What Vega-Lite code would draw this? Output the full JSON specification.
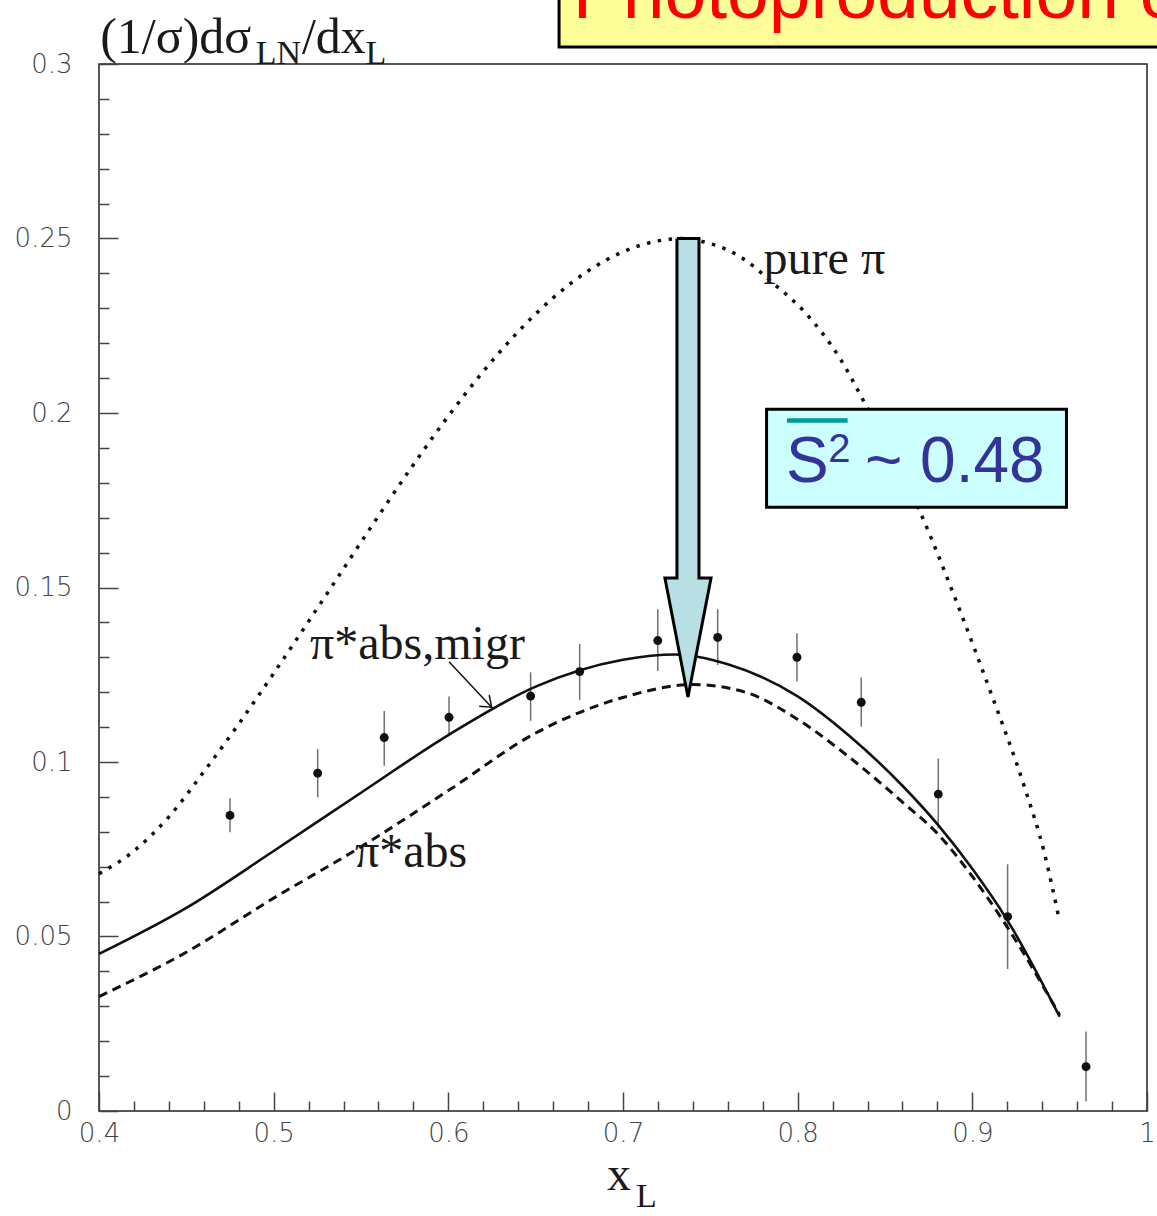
{
  "$schema": "https://vega.github.io/schema/vega-lite/v6.json",
  "width": 1048,
  "height": 1047,
  "autosize": "none",
  "padding": {"left": 99, "top": 64, "right": 10, "bottom": 105},
  "background": "white",
  "config": {
    "view": {"stroke": "#222", "strokeWidth": 1.5},
    "axis": {"grid": false, "domain": false, "title": null}
  },
  "datasets": {
    "pts": [
      {"x": 0.475, "y": 0.0847, "lo": 0.0799, "hi": 0.0896},
      {"x": 0.5252, "y": 0.0968, "lo": 0.0899, "hi": 0.1037},
      {"x": 0.5633, "y": 0.107, "lo": 0.0989, "hi": 0.1146},
      {"x": 0.6004, "y": 0.1128, "lo": 0.1077, "hi": 0.1188},
      {"x": 0.6471, "y": 0.1189, "lo": 0.1118, "hi": 0.1257},
      {"x": 0.6752, "y": 0.1259, "lo": 0.1178, "hi": 0.1338},
      {"x": 0.7199, "y": 0.1348, "lo": 0.1261, "hi": 0.1438},
      {"x": 0.7542, "y": 0.1357, "lo": 0.1278, "hi": 0.1438},
      {"x": 0.7996, "y": 0.13, "lo": 0.1231, "hi": 0.1369},
      {"x": 0.8364, "y": 0.1171, "lo": 0.1101, "hi": 0.1242},
      {"x": 0.8805, "y": 0.0908, "lo": 0.081, "hi": 0.101},
      {"x": 0.9202, "y": 0.0557, "lo": 0.0407, "hi": 0.0707},
      {"x": 0.9651, "y": 0.0127, "lo": 0.0027, "hi": 0.0228}
    ],
    "migr": [
      {"x": 0.4, "y": 0.045}, {"x": 0.45, "y": 0.0582}, {"x": 0.5, "y": 0.0745},
      {"x": 0.55, "y": 0.0912}, {"x": 0.6, "y": 0.1077}, {"x": 0.65, "y": 0.1216},
      {"x": 0.7, "y": 0.1293}, {"x": 0.73, "y": 0.1308}, {"x": 0.76, "y": 0.128},
      {"x": 0.8, "y": 0.1188}, {"x": 0.83, "y": 0.1073}, {"x": 0.86, "y": 0.0932},
      {"x": 0.88, "y": 0.0822}, {"x": 0.9, "y": 0.0694}, {"x": 0.92, "y": 0.0547},
      {"x": 0.95, "y": 0.027}
    ],
    "abs": [
      {"x": 0.4, "y": 0.0328}, {"x": 0.45, "y": 0.0455}, {"x": 0.5, "y": 0.061},
      {"x": 0.55, "y": 0.0757}, {"x": 0.6, "y": 0.0918}, {"x": 0.65, "y": 0.1083},
      {"x": 0.7, "y": 0.1185}, {"x": 0.74, "y": 0.1222}, {"x": 0.77, "y": 0.12},
      {"x": 0.8, "y": 0.1122}, {"x": 0.83, "y": 0.1012}, {"x": 0.86, "y": 0.0885},
      {"x": 0.88, "y": 0.0795}, {"x": 0.9, "y": 0.0672}, {"x": 0.92, "y": 0.0527},
      {"x": 0.95, "y": 0.0275}
    ],
    "pure": [
      {"x": 0.4, "y": 0.068}, {"x": 0.42, "y": 0.0745}, {"x": 0.44, "y": 0.0843},
      {"x": 0.46, "y": 0.0972}, {"x": 0.48, "y": 0.1109}, {"x": 0.5, "y": 0.1254},
      {"x": 0.52, "y": 0.1403}, {"x": 0.54, "y": 0.1554}, {"x": 0.56, "y": 0.1705},
      {"x": 0.58, "y": 0.1852}, {"x": 0.6, "y": 0.1991}, {"x": 0.62, "y": 0.2119},
      {"x": 0.64, "y": 0.2233}, {"x": 0.66, "y": 0.233}, {"x": 0.68, "y": 0.2407},
      {"x": 0.7, "y": 0.2462}, {"x": 0.72, "y": 0.2493}, {"x": 0.735, "y": 0.25},
      {"x": 0.7441, "y": 0.2493}, {"x": 0.767, "y": 0.2448}, {"x": 0.7862, "y": 0.2371},
      {"x": 0.8053, "y": 0.2282}, {"x": 0.8245, "y": 0.2154}, {"x": 0.8379, "y": 0.2033},
      {"x": 0.8696, "y": 0.1722}, {"x": 0.8915, "y": 0.1452}, {"x": 0.9107, "y": 0.1197},
      {"x": 0.9298, "y": 0.0929}, {"x": 0.9413, "y": 0.0738}, {"x": 0.9498, "y": 0.0547}
    ],
    "arrow": [
      {"i": 0, "x": 0.7309, "y": 0.25}, {"i": 1, "x": 0.7435, "y": 0.25},
      {"i": 2, "x": 0.7435, "y": 0.1527}, {"i": 3, "x": 0.7504, "y": 0.1527},
      {"i": 4, "x": 0.7372, "y": 0.1186}, {"i": 5, "x": 0.724, "y": 0.1527},
      {"i": 6, "x": 0.7309, "y": 0.1527}, {"i": 7, "x": 0.7309, "y": 0.25}
    ],
    "ptr": [
      {"g": "shaft", "i": 0, "x": 0.6004, "y": 0.1287}, {"g": "shaft", "i": 1, "x": 0.6248, "y": 0.1157},
      {"g": "head", "i": 0, "x": 0.6177, "y": 0.116}, {"g": "head", "i": 1, "x": 0.6248, "y": 0.1157},
      {"g": "head", "i": 2, "x": 0.6234, "y": 0.1192}
    ],
    "sbox": [{"x": 0.7822, "x2": 0.9539, "y": 0.2011, "y2": 0.173}],
    "tbox": [{"x": 0.6634, "x2": 1.05, "y": 0.33, "y2": 0.3049}],
    "bar": [{"x": 0.7939, "x2": 0.8286, "y": 0.19785}],
    "big": [
      {"t": "S", "x": 0.7933, "y": 0.1803},
      {"t": "~ 0.48", "x": 0.8385, "y": 0.1803}
    ],
    "sup": [{"t": "2", "x": 0.8175, "y": 0.186}],
    "serif": [
      {"t": "pure π", "x": 0.7805, "y": 0.2397},
      {"t": "π*abs,migr", "x": 0.5208, "y": 0.1295},
      {"t": "π*abs", "x": 0.5466, "y": 0.0699},
      {"t": "x", "x": 0.6908, "y": -0.0226}
    ],
    "ytitle": [
      {"t": "(1/σ)dσ", "x": 0.4007, "y": 0.3032},
      {"t": "/dx", "x": 0.5162, "y": 0.3032}
    ],
    "sub": [
      {"t": "LN", "x": 0.4897, "y": 0.3001},
      {"t": "L", "x": 0.5526, "y": 0.3001},
      {"t": "L", "x": 0.7074, "y": -0.0275}
    ],
    "title": [{"t": "Photoproduction of leading neutrons", "x": 0.6712, "y": 0.3132}]
  },
  "layer": [
    {
      "data": {"name": "pts"},
      "mark": {"type": "rule", "color": "#707070", "strokeWidth": 1.5},
      "encoding": {
        "x": {"field": "x", "type": "quantitative", "scale": {"domain": [0.4, 1], "nice": false, "zero": false},
              "axis": {"orient": "bottom", "values": [0.4, 0.5, 0.6, 0.7, 0.8, 0.9, 1], "format": "~g", "ticks": false,
                       "labelFont": "DejaVu Sans", "labelFontSize": 26, "labelFontWeight": 200, "labelColor": "#444",
                       "labelPadding": 9, "labelFlush": false, "labelOverlap": false}},
        "y": {"field": "lo", "type": "quantitative", "scale": {"domain": [0, 0.3], "nice": false, "zero": false},
              "axis": {"orient": "left", "values": [0, 0.05, 0.1, 0.15, 0.2, 0.25, 0.3], "format": "~g", "ticks": false,
                       "labelFont": "DejaVu Sans", "labelFontSize": 26, "labelFontWeight": 200, "labelColor": "#444",
                       "labelPadding": 27, "labelFlush": false, "labelOverlap": false}},
        "y2": {"field": "hi"}
      }
    },
    {
      "data": {"name": "pts"},
      "mark": {"type": "circle", "color": "#111", "opacity": 1, "size": 80},
      "encoding": {
        "x": {"field": "x", "type": "quantitative", "scale": {"domain": [0.4, 1], "nice": false, "zero": false},
              "axis": {"orient": "bottom", "values": [0.4, 0.5, 0.6, 0.7, 0.8, 0.9, 1], "labels": false,
                       "tickSize": -19, "tickColor": "#444", "tickWidth": 1.5}},
        "y": {"field": "y", "type": "quantitative", "scale": {"domain": [0, 0.3], "nice": false, "zero": false},
              "axis": {"orient": "left", "values": [0, 0.05, 0.1, 0.15, 0.2, 0.25, 0.3], "labels": false,
                       "tickSize": -19, "tickColor": "#444", "tickWidth": 1.5}}
      }
    },
    {
      "data": {"name": "migr"},
      "mark": {"type": "line", "color": "#111", "strokeWidth": 2.6, "interpolate": "monotone"},
      "encoding": {
        "x": {"field": "x", "type": "quantitative", "scale": {"domain": [0.4, 1], "nice": false, "zero": false},
              "axis": {"orient": "bottom", "values": [0.42, 0.44, 0.46, 0.48, 0.52, 0.54, 0.56, 0.58, 0.62, 0.64, 0.66, 0.68, 0.72, 0.74, 0.76, 0.78, 0.82, 0.84, 0.86, 0.88, 0.92, 0.94, 0.96, 0.98],
                       "labels": false, "tickSize": -10, "tickColor": "#444", "tickWidth": 1.5}},
        "y": {"field": "y", "type": "quantitative", "scale": {"domain": [0, 0.3], "nice": false, "zero": false},
              "axis": {"orient": "left", "values": [0.01, 0.02, 0.03, 0.04, 0.06, 0.07, 0.08, 0.09, 0.11, 0.12, 0.13, 0.14, 0.16, 0.17, 0.18, 0.19, 0.21, 0.22, 0.23, 0.24, 0.26, 0.27, 0.28, 0.29],
                       "labels": false, "tickSize": -10, "tickColor": "#444", "tickWidth": 1.5}}
      }
    },
    {
      "data": {"name": "abs"},
      "mark": {"type": "line", "color": "#111", "strokeWidth": 3, "strokeDash": [9, 6], "interpolate": "monotone"},
      "encoding": {
        "x": {"field": "x", "type": "quantitative", "scale": {"domain": [0.4, 1], "nice": false, "zero": false}, "axis": null},
        "y": {"field": "y", "type": "quantitative", "scale": {"domain": [0, 0.3], "nice": false, "zero": false}, "axis": null}
      }
    },
    {
      "data": {"name": "pure"},
      "mark": {"type": "line", "color": "#111", "strokeWidth": 3.5, "strokeDash": [3.5, 7.5], "interpolate": "monotone"},
      "encoding": {
        "x": {"field": "x", "type": "quantitative", "scale": {"domain": [0.4, 1], "nice": false, "zero": false}, "axis": null},
        "y": {"field": "y", "type": "quantitative", "scale": {"domain": [0, 0.3], "nice": false, "zero": false}, "axis": null}
      }
    },
    {
      "data": {"name": "ptr"},
      "mark": {"type": "line", "color": "#111", "strokeWidth": 1.5},
      "encoding": {
        "x": {"field": "x", "type": "quantitative", "scale": {"domain": [0.4, 1], "nice": false, "zero": false}, "axis": null},
        "y": {"field": "y", "type": "quantitative", "scale": {"domain": [0, 0.3], "nice": false, "zero": false}, "axis": null},
        "detail": {"field": "g"},
        "order": {"field": "i"}
      }
    },
    {
      "data": {"name": "arrow"},
      "mark": {"type": "line", "fill": "#b8dfe3", "stroke": "#000", "strokeWidth": 3, "strokeJoin": "miter"},
      "encoding": {
        "x": {"field": "x", "type": "quantitative", "scale": {"domain": [0.4, 1], "nice": false, "zero": false}, "axis": null},
        "y": {"field": "y", "type": "quantitative", "scale": {"domain": [0, 0.3], "nice": false, "zero": false}, "axis": null},
        "order": {"field": "i"}
      }
    },
    {
      "data": {"name": "sbox"},
      "mark": {"type": "rect", "fill": "#ccffff", "stroke": "#000", "strokeWidth": 3},
      "encoding": {
        "x": {"field": "x", "type": "quantitative", "scale": {"domain": [0.4, 1], "nice": false, "zero": false}, "axis": null},
        "x2": {"field": "x2"},
        "y": {"field": "y", "type": "quantitative", "scale": {"domain": [0, 0.3], "nice": false, "zero": false}, "axis": null},
        "y2": {"field": "y2"}
      }
    },
    {
      "data": {"name": "bar"},
      "mark": {"type": "rule", "color": "#009999", "strokeWidth": 4.5},
      "encoding": {
        "x": {"field": "x", "type": "quantitative", "scale": {"domain": [0.4, 1], "nice": false, "zero": false}, "axis": null},
        "x2": {"field": "x2"},
        "y": {"field": "y", "type": "quantitative", "scale": {"domain": [0, 0.3], "nice": false, "zero": false}, "axis": null}
      }
    },
    {
      "data": {"name": "big"},
      "mark": {"type": "text", "font": "Liberation Sans", "fontSize": 64, "color": "#333399", "align": "left", "baseline": "alphabetic"},
      "encoding": {
        "x": {"field": "x", "type": "quantitative", "scale": {"domain": [0.4, 1], "nice": false, "zero": false}, "axis": null},
        "y": {"field": "y", "type": "quantitative", "scale": {"domain": [0, 0.3], "nice": false, "zero": false}, "axis": null},
        "text": {"field": "t"}
      }
    },
    {
      "data": {"name": "sup"},
      "mark": {"type": "text", "font": "Liberation Sans", "fontSize": 40, "color": "#333399", "align": "left", "baseline": "alphabetic"},
      "encoding": {
        "x": {"field": "x", "type": "quantitative", "scale": {"domain": [0.4, 1], "nice": false, "zero": false}, "axis": null},
        "y": {"field": "y", "type": "quantitative", "scale": {"domain": [0, 0.3], "nice": false, "zero": false}, "axis": null},
        "text": {"field": "t"}
      }
    },
    {
      "data": {"name": "serif"},
      "mark": {"type": "text", "font": "Liberation Serif", "fontSize": 48, "color": "#1a1a1a", "align": "left", "baseline": "alphabetic"},
      "encoding": {
        "x": {"field": "x", "type": "quantitative", "scale": {"domain": [0.4, 1], "nice": false, "zero": false}, "axis": null},
        "y": {"field": "y", "type": "quantitative", "scale": {"domain": [0, 0.3], "nice": false, "zero": false}, "axis": null},
        "text": {"field": "t"}
      }
    },
    {
      "data": {"name": "ytitle"},
      "mark": {"type": "text", "font": "Liberation Serif", "fontSize": 50, "color": "#1a1a1a", "align": "left", "baseline": "alphabetic"},
      "encoding": {
        "x": {"field": "x", "type": "quantitative", "scale": {"domain": [0.4, 1], "nice": false, "zero": false}, "axis": null},
        "y": {"field": "y", "type": "quantitative", "scale": {"domain": [0, 0.3], "nice": false, "zero": false}, "axis": null},
        "text": {"field": "t"}
      }
    },
    {
      "data": {"name": "sub"},
      "mark": {"type": "text", "font": "Liberation Serif", "fontSize": 34, "color": "#1a1a1a", "align": "left", "baseline": "alphabetic"},
      "encoding": {
        "x": {"field": "x", "type": "quantitative", "scale": {"domain": [0.4, 1], "nice": false, "zero": false}, "axis": null},
        "y": {"field": "y", "type": "quantitative", "scale": {"domain": [0, 0.3], "nice": false, "zero": false}, "axis": null},
        "text": {"field": "t"}
      }
    },
    {
      "data": {"name": "tbox"},
      "mark": {"type": "rect", "fill": "#ffff99", "stroke": "#000", "strokeWidth": 3},
      "encoding": {
        "x": {"field": "x", "type": "quantitative", "scale": {"domain": [0.4, 1], "nice": false, "zero": false}, "axis": null},
        "x2": {"field": "x2"},
        "y": {"field": "y", "type": "quantitative", "scale": {"domain": [0, 0.3], "nice": false, "zero": false}, "axis": null},
        "y2": {"field": "y2"}
      }
    },
    {
      "data": {"name": "title"},
      "mark": {"type": "text", "font": "Liberation Sans", "fontSize": 75, "color": "#ff0000", "align": "left", "baseline": "alphabetic"},
      "encoding": {
        "x": {"field": "x", "type": "quantitative", "scale": {"domain": [0.4, 1], "nice": false, "zero": false}, "axis": null},
        "y": {"field": "y", "type": "quantitative", "scale": {"domain": [0, 0.3], "nice": false, "zero": false}, "axis": null},
        "text": {"field": "t"}
      }
    }
  ],
  "resolve": {"axis": {"x": "independent", "y": "independent"}}
}
